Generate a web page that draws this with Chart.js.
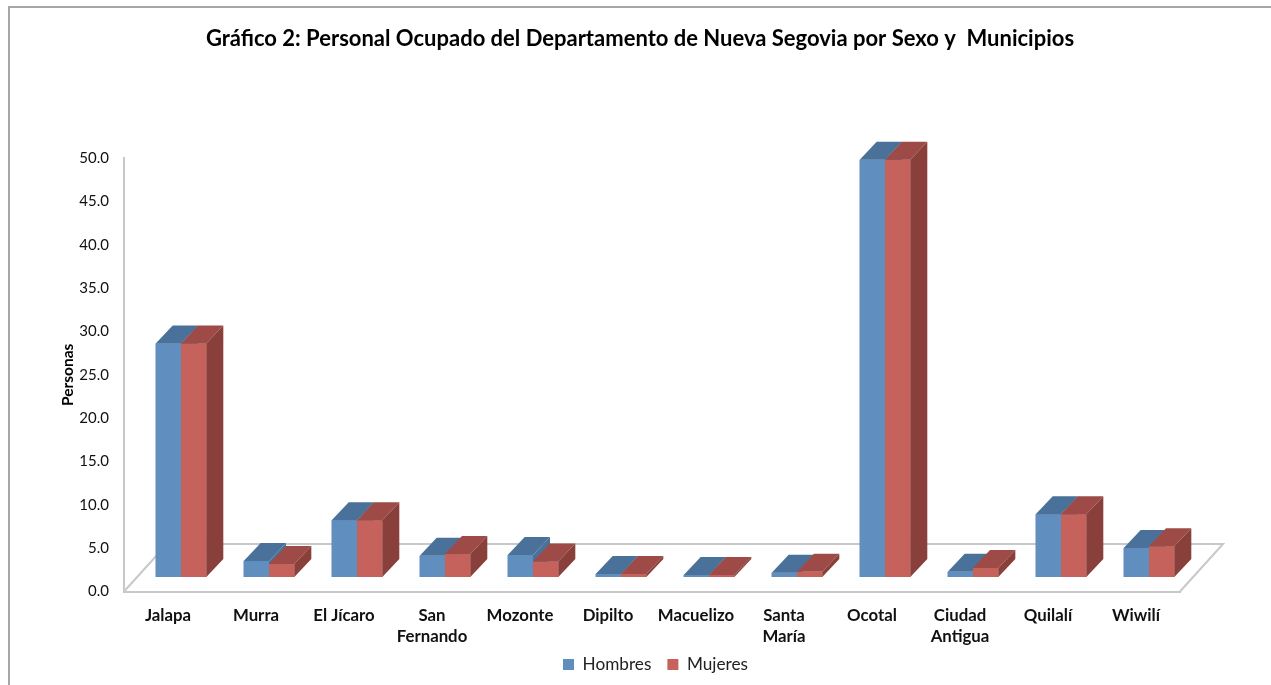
<!DOCTYPE html>
<html lang="es">
<head>
<meta charset="utf-8">
<title>Gráfico 2</title>
<script src="https://cdn.jsdelivr.net/npm/chart.js@4"></script>
<style>
html,body{margin:0;padding:0;background:#fff;overflow:hidden}
#wrap{position:absolute;left:0;top:0;width:1271px;height:685px}
</style>
</head>
<body>
<div id="wrap"><canvas id="c" width="1271" height="685"></canvas></div>
<script>
const categories = ["Jalapa","Murra","El Jícaro",["San","Fernando"],"Mozonte","Dipilto","Macuelizo",["Santa","María"],"Ocotal",["Ciudad","Antigua"],"Quilalí","Wiwilí"];
const hombres = [27.0,1.9,6.6,2.5,2.6,0.4,0.3,0.55,48.2,0.65,7.3,3.4];
const mujeres = [27.0,1.55,6.6,2.7,1.85,0.4,0.3,0.65,48.2,1.1,7.3,3.6];
const chartTitle = "Gráfico 2: Personal Ocupado del Departamento de Nueva Segovia por Sexo y  Municipios";
const axisTitle = "Personas";
const FONT = "Lato";
const TEXT = "#111111";
const AXIS = "#c8c8c8";

const shiftX = 13, shiftY = 14;      // bars stand inset on the floor
const depthX = 17, depthY = 18;      // bar depth
const floorX = 43, floorY = 47.5;    // floor depth

function poly(ctx, pts, fill){
  ctx.beginPath();
  pts.forEach((p,i)=> i ? ctx.lineTo(p[0],p[1]) : ctx.moveTo(p[0],p[1]));
  ctx.closePath();
  ctx.fillStyle = fill;
  ctx.fill();
}
const faces = [{top:"#4a7199",side:"#4a7199"},{top:"#9e4b48",side:"#893f3a"}];

const box3d = {
  id:"box3d",
  beforeDraw(chart){
    const {ctx,width,height} = chart;
    ctx.save();
    ctx.fillStyle="#fff"; ctx.fillRect(0,0,width,height);
    ctx.strokeStyle="#a6a6a6"; ctx.lineWidth=2;
    ctx.beginPath(); ctx.moveTo(9,685); ctx.lineTo(9,7); ctx.lineTo(1271,7); ctx.stroke();
    ctx.restore();
  },
  beforeDatasetsDraw(chart){
    const {ctx,chartArea:a} = chart;
    ctx.save();
    ctx.strokeStyle=AXIS; ctx.lineWidth=2;
    ctx.beginPath();
    ctx.moveTo(a.left,a.bottom);
    ctx.lineTo(a.left+floorX,a.bottom-floorY);
    ctx.lineTo(a.right+floorX,a.bottom-floorY);
    ctx.lineTo(a.right,a.bottom);
    ctx.stroke();
    ctx.restore();
    ctx.save();
    ctx.translate(shiftX,-shiftY);
  },
  afterDatasetsDraw(chart){
    const ctx = chart.ctx;
    const m0 = chart.getDatasetMeta(0).data, m1 = chart.getDatasetMeta(1).data;
    m0.forEach((_,i)=>{
      [m0[i],m1[i]].forEach((b,k)=>{
        const hw=b.width/2, l=b.x-hw, r=b.x+hw, t=b.y, base=b.base;
        b.draw(ctx);
        poly(ctx,[[l,t],[r,t],[r+depthX,t-depthY],[l+depthX,t-depthY]],faces[k].top);
        poly(ctx,[[r,t],[r+depthX,t-depthY],[r+depthX,base-depthY],[r,base]],faces[k].side);
      });
    });
    ctx.restore();
  },
  afterLayout(chart){
    chart.legend.left += 60.5; chart.legend.right += 60.5;
    chart.titleBlock.left += 45; chart.titleBlock.right += 45;
    chart.scales.x.bottom += 14;   // room for the two-line category labels
  }
};

new Chart(document.getElementById("c"),{
  type:"bar",
  plugins:[box3d],
  data:{
    labels:categories,
    datasets:[
      {label:"Hombres",data:hombres,backgroundColor:"#5f8ebf",clip:false},
      {label:"Mujeres",data:mujeres,backgroundColor:"#c5625c",clip:false}
    ]
  },
  options:{
    responsive:false,
    animation:false,
    devicePixelRatio:1,
    layout:{padding:{left:10,right:91,top:0,bottom:2}},
    categoryPercentage:0.575,
    barPercentage:1,
    plugins:{
      tooltip:{enabled:false},
      title:{display:true,text:chartTitle,color:"#000",
        font:{family:FONT,size:22,weight:"bold",lineHeight:1.2},
        padding:{top:26,bottom:105.8}},
      legend:{display:true,position:"bottom",
        labels:{font:{family:FONT,size:17.2},color:"#222",boxWidth:11,boxHeight:11,padding:16}}
    },
    scales:{
      x:{
        grid:{display:true,drawOnChartArea:false,drawTicks:false,color:AXIS},
        border:{display:true,color:AXIS,width:2},
        ticks:{font:{family:FONT,size:16.8,weight:"bold",lineHeight:1.2},color:TEXT,padding:14.5,maxRotation:0,autoSkip:false},
        afterFit(s){s.height=48.3;}
      },
      y:{
        min:0,max:50,
        grid:{display:true,drawOnChartArea:false,drawTicks:false,color:AXIS},
        border:{display:true,color:AXIS,width:2},
        ticks:{stepSize:5,font:{family:FONT,size:15},color:TEXT,padding:15,callback:v=>Number(v).toFixed(1)},
        title:{display:true,text:axisTitle,color:"#000",font:{family:FONT,size:15.5,weight:"bold",lineHeight:1.2},padding:{top:48.5,bottom:0}},
        afterFit(s){s.width=114;}
      }
    }
  }
});
</script>
</body>
</html>
